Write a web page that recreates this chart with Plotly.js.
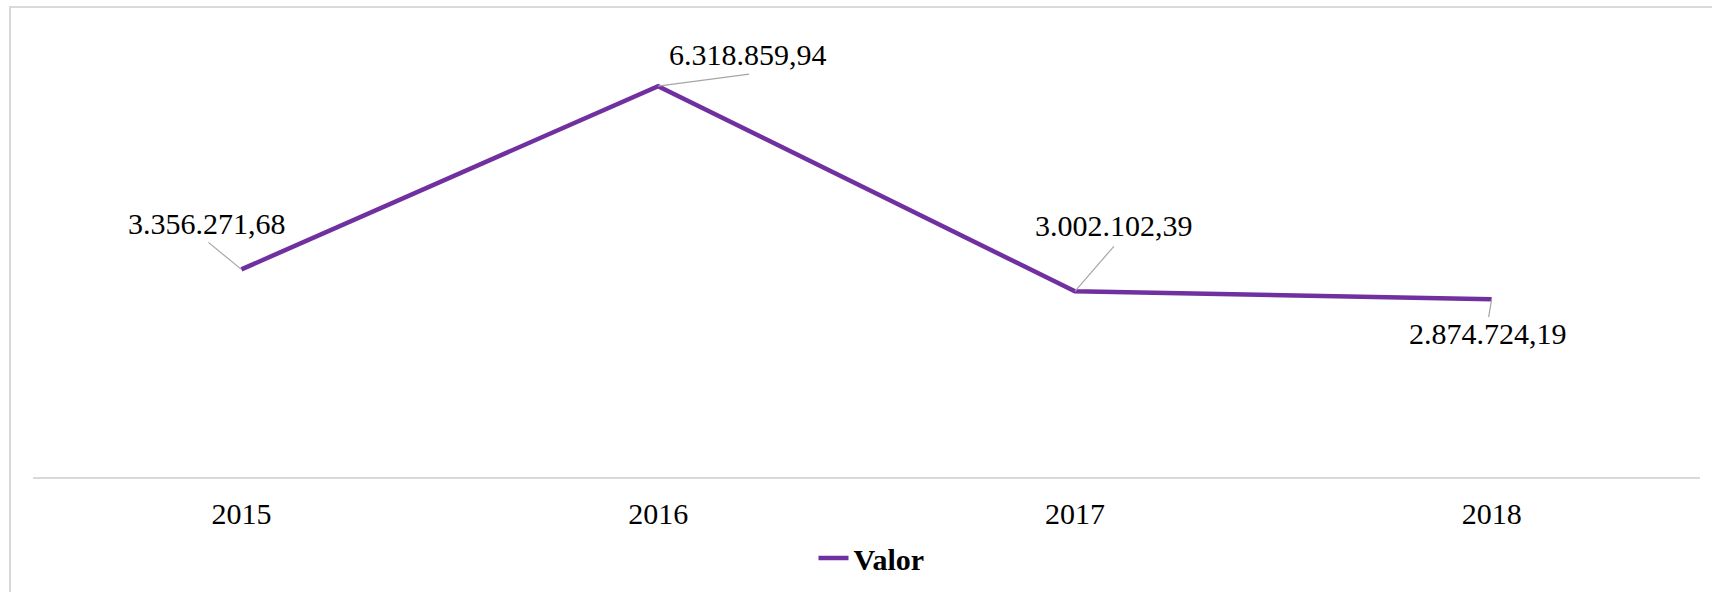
<!DOCTYPE html>
<html>
<head>
<meta charset="utf-8">
<script src="https://cdn.plot.ly/plotly-3.0.1.min.js"></script>
<style>
  html, body { margin: 0; padding: 0; background: #ffffff; }
  #wrap { position: relative; width: 1712px; height: 592px; overflow: hidden; }
  #chart { position: absolute; left: 0; top: 0; width: 1712px; height: 592px; }
  #frame { position: absolute; left: 9px; top: 6px; width: 1720px; height: 600px;
           border-left: 2px solid #d9d9d9; border-top: 2px solid #d9d9d9; pointer-events: none; }
</style>
</head>
<body>
<div id="wrap">
  <div id="chart"></div>
  <div id="frame"></div>
</div>
<script>
// Data
const years = ['2015', '2016', '2017', '2018'];
const valores = [3356271.68, 6318859.94, 3002102.39, 2874724.19];
const labels = ['3.356.271,68', '6.318.859,94', '3.002.102,39', '2.874.724,19'];
const seriesName = 'Valor';

// Label placement (pixel offsets from each point)
const textShift = [[-34, 46], [90, 32], [39, 66], [-4, -34]];
const leaderEnd = [[-33, 27], [91, 12], [39, 45], [-3, -18]];

const serif = "'Liberation Serif', 'Times New Roman', serif";

const annotations = years.map((y, i) => ({
  x: i, y: valores[i], xref: 'x', yref: 'y',
  text: labels[i], showarrow: false,
  xshift: textShift[i][0], yshift: textShift[i][1],
  font: { family: serif, size: 30, color: '#000000' }
}));

const shapes = years.map((y, i) => ({
  type: 'line', xref: 'x', yref: 'y',
  xsizemode: 'pixel', ysizemode: 'pixel',
  xanchor: i, yanchor: valores[i],
  x0: 0, y0: 0, x1: leaderEnd[i][0], y1: leaderEnd[i][1],
  line: { color: '#a6a6a6', width: 1.2 }
}));

const trace = {
  type: 'scatter', mode: 'lines',
  x: years, y: valores, name: seriesName,
  line: { color: '#7030a0', width: 4.5 },
  showlegend: true, hoverinfo: 'skip'
};

const layout = {
  width: 1712, height: 592,
  margin: { l: 33, r: 12, t: 44, b: 115, autoexpand: false },
  paper_bgcolor: '#ffffff', plot_bgcolor: '#ffffff',
  showlegend: true,
  legend: {
    orientation: 'h', x: 0.503, xanchor: 'center', y: -0.187, yanchor: 'middle',
    font: { family: serif, size: 30, color: '#000000', weight: 'bold' },
    bgcolor: 'rgba(0,0,0,0)'
  },
  xaxis: {
    type: 'category', range: [-0.5, 3.5], automargin: false,
    showline: true, linecolor: '#d9d9d9', linewidth: 2,
    showgrid: false, zeroline: false, ticks: '',
    tickfont: { family: serif, size: 30, color: '#000000' },
    ticklabelstandoff: 9, fixedrange: true
  },
  yaxis: {
    range: [0, 7000000], visible: false, showgrid: false, zeroline: false, fixedrange: true
  },
  annotations: annotations,
  shapes: shapes
};

Plotly.newPlot('chart', [trace], layout, { displayModeBar: false, staticPlot: true });
</script>
</body>
</html>
